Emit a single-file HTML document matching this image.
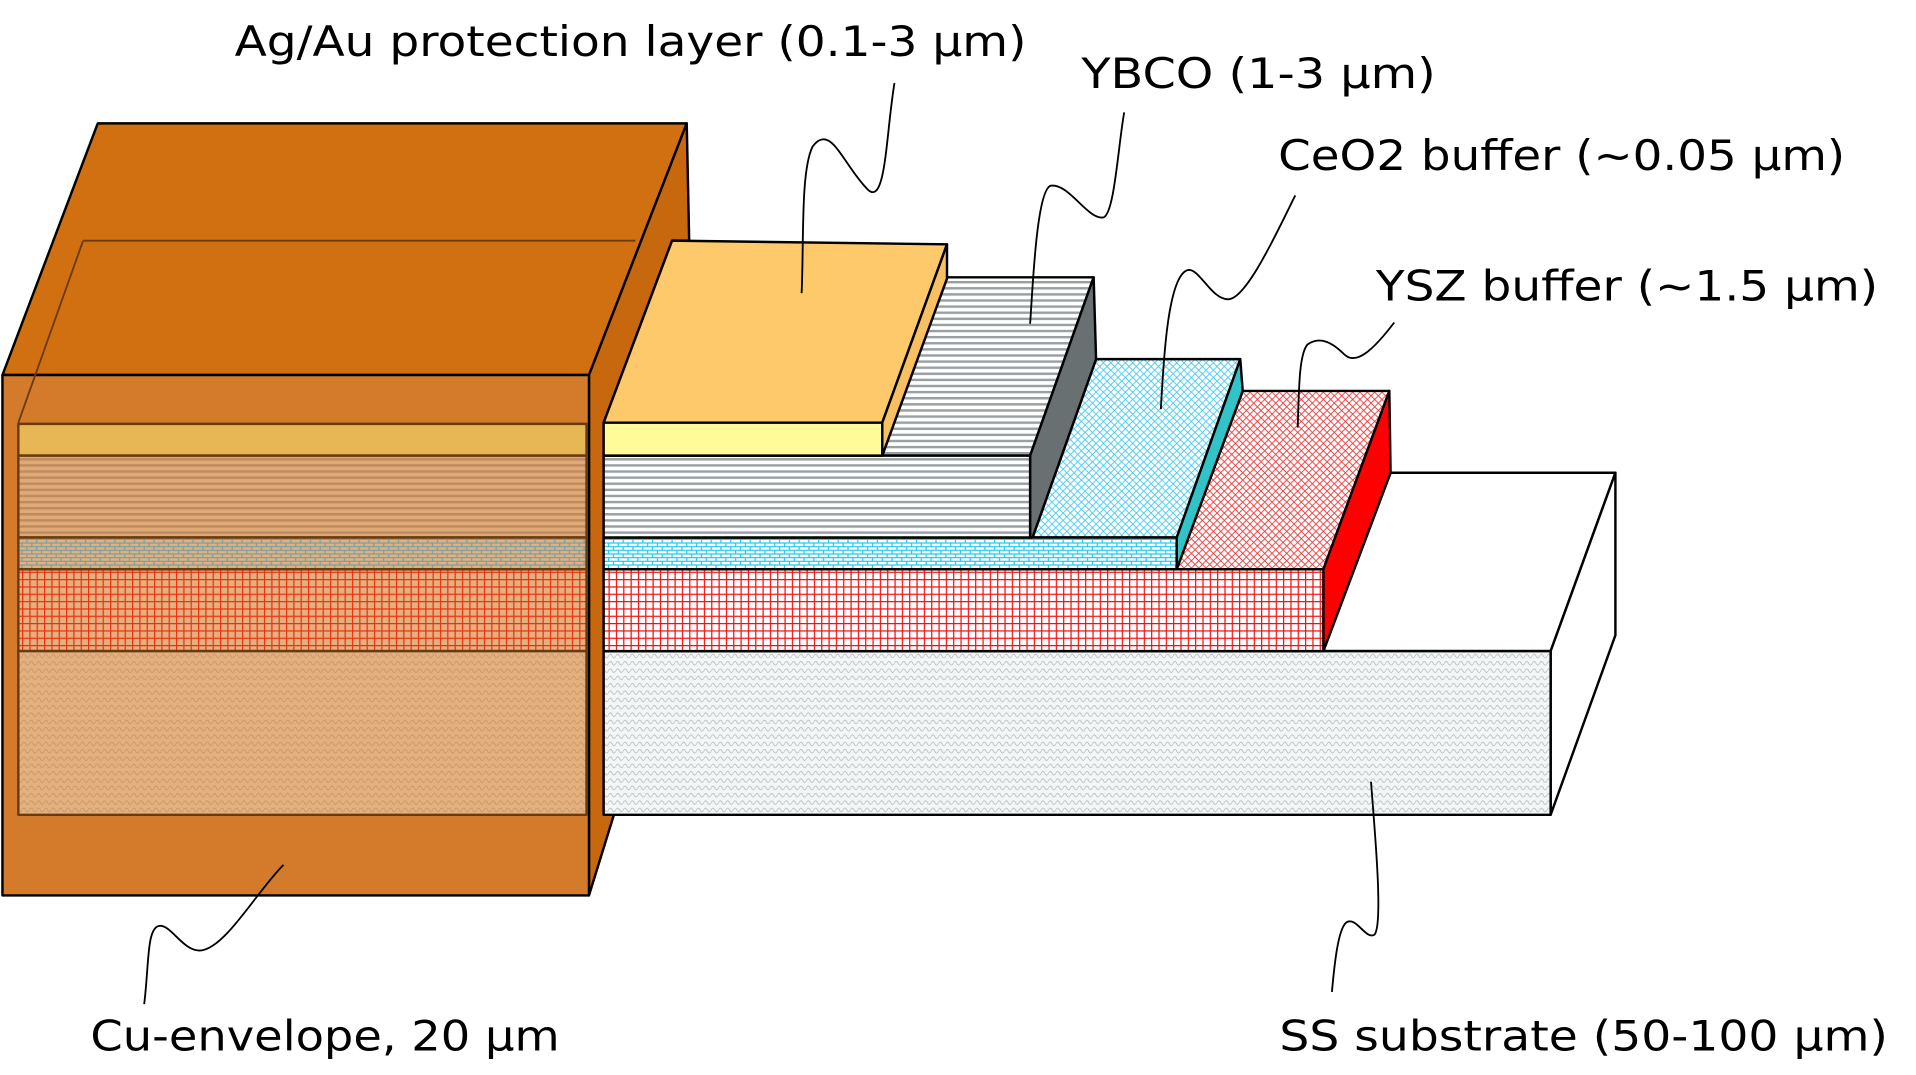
<!DOCTYPE html>
<html><head><meta charset="utf-8"><style>
html,body{margin:0;padding:0;background:#fff;}
svg{display:block;}
text{font-family:"DejaVu Sans","Liberation Sans",sans-serif;font-size:34px;fill:#000;}
</style></head><body>
<svg width="1916" height="1075" viewBox="0 0 1568 880" preserveAspectRatio="none" xmlns="http://www.w3.org/2000/svg">
<defs>
<pattern id="stripeG" width="6" height="5" patternUnits="userSpaceOnUse"><rect width="6" height="5" fill="#fff"/><rect y="0" width="6" height="2" fill="#98a0a4"/></pattern>
<pattern id="stripeT" width="6" height="5" patternUnits="userSpaceOnUse"><rect width="6" height="5" fill="#deaa78"/><rect y="0" width="6" height="2" fill="#c08a5e"/></pattern>
<pattern id="brickB" width="8" height="6" patternUnits="userSpaceOnUse"><rect width="8" height="6" fill="#fff"/><path d="M0 0.5H8M0 3.5H8M2 0V3M6 3V6" stroke="#22c8f0" stroke-width="1"/></pattern>
<pattern id="brickT" width="8" height="6" patternUnits="userSpaceOnUse"><rect width="8" height="6" fill="#e3b07f"/><path d="M0 0.5H8M0 3.5H8M2 0V3M6 3V6" stroke="#7aa0a0" stroke-width="1"/></pattern>
<pattern id="gridR" width="6" height="6" patternUnits="userSpaceOnUse"><rect width="6" height="6" fill="#fff"/><path d="M0 0.5H6M0.5 0V6" stroke="#f01010" stroke-width="1"/></pattern>
<pattern id="gridO" width="6" height="6" patternUnits="userSpaceOnUse"><rect width="6" height="6" fill="#e3b07f"/><path d="M0 0.5H6M0.5 0V6" stroke="#f03010" stroke-width="1"/></pattern>
<pattern id="diaB" width="6" height="6" patternUnits="userSpaceOnUse"><rect width="6" height="6" fill="#fff"/><path d="M0 0L6 6M6 0L0 6" stroke="#40c8f0" stroke-width="0.7"/></pattern>
<pattern id="diaR" width="6" height="6" patternUnits="userSpaceOnUse"><rect width="6" height="6" fill="#fff"/><path d="M0 0L6 6M6 0L0 6" stroke="#f03030" stroke-width="0.7"/></pattern>
<pattern id="waveW" width="6" height="6" patternUnits="userSpaceOnUse"><rect width="6" height="6" fill="#f4f6f6"/><path d="M0 3Q1.5 0 3 3T6 3" stroke="#a8b4b8" stroke-width="0.6" fill="none"/></pattern>
<pattern id="waveT" width="6" height="6" patternUnits="userSpaceOnUse"><rect width="6" height="6" fill="#e3b07f"/><path d="M0 3Q1.5 0 3 3T6 3" stroke="#c89062" stroke-width="0.6" fill="none"/></pattern>
</defs>
<g stroke="#000" stroke-width="2" stroke-linejoin="round">
<polygon points="2,307 80,101 562,101 482,307" fill="#d07010"/>
<polygon points="482,307 562,101 564,197 550,197 494,346 494,665 503,665 482,733" fill="#c8680e"/>
<rect x="2" y="307" width="480" height="426" fill="#d37b2a"/>
<path d="M68,197H520M68,197L15,346" stroke="#6a3a10" stroke-width="1.5" fill="none"/>
<g stroke="#6a3a10" stroke-width="2">
<rect x="15" y="347" width="465" height="26" fill="#e6b754"/>
<rect x="15" y="373" width="465" height="67" fill="url(#stripeT)"/>
<rect x="15" y="440" width="465" height="26" fill="url(#brickT)"/>
<rect x="15" y="466" width="465" height="67" fill="url(#gridO)"/>
<rect x="15" y="533" width="465" height="134" fill="url(#waveT)"/>
</g>
<polygon points="1083,533 1138,387 1322,387 1269,533" fill="#fff"/>
<polygon points="1269,667 1269,533 1322,387 1322,520" fill="#fff"/>
<rect x="494" y="533" width="775" height="134" fill="url(#waveW)"/>
<polygon points="963,466 1017,320 1137,320 1083,466" fill="url(#diaR)"/>
<polygon points="1083,533 1083,466 1137,320 1138,387" fill="#ff0000"/>
<rect x="494" y="466" width="589" height="67" fill="url(#gridR)"/>
<polygon points="845,440 897,294 1015,294 963,440" fill="url(#diaB)"/>
<polygon points="963,466 963,440 1015,294 1017,320" fill="#30c4c8"/>
<rect x="494" y="440" width="469" height="26" fill="url(#brickB)"/>
<polygon points="722,373 775,227 895,227 843,373" fill="url(#stripeG)"/>
<polygon points="843,440 843,373 895,227 897,294 845,440" fill="#687072"/>
<rect x="494" y="373" width="349" height="67" fill="url(#stripeG)"/>
<polygon points="494,346 550,197 775,200 722,346" fill="#fdc96a"/>
<polygon points="722,373 722,346 775,200 775,228" fill="#f8c060"/>
<rect x="494" y="346" width="228" height="27" fill="#fffb99"/>
</g>
<g stroke="#000" stroke-width="1.5" fill="none">
<path d="M732,68 C725,110 725,170 710,155 C690,135 680,100 665,120 C655,140 658,200 656,240"/>
<path d="M920,92 C915,120 912,175 903,178 C890,180 875,150 860,152 C848,155 845,240 843,265"/>
<path d="M1060,160 C1045,190 1020,245 1005,245 C990,245 980,215 970,222 C955,232 952,300 950,335"/>
<path d="M1141,264 C1125,285 1110,300 1100,290 C1090,280 1080,275 1070,282 C1063,290 1063,320 1062,350"/>
<path d="M118,822 C122,790 120,760 130,758 C140,756 150,780 165,778 C185,775 210,730 232,708"/>
<path d="M1090,812 C1092,790 1095,760 1102,755 C1110,750 1118,770 1125,765 C1132,755 1125,680 1122,640"/>
</g>
<text x="192" y="46" textLength="648" lengthAdjust="spacingAndGlyphs">Ag/Au protection layer (0.1-3 μm)</text>
<text x="885" y="72" textLength="290" lengthAdjust="spacingAndGlyphs">YBCO (1-3 μm)</text>
<text x="1046" y="139" textLength="464" lengthAdjust="spacingAndGlyphs">CeO2 buffer (~0.05 μm)</text>
<text x="1126" y="246" textLength="411" lengthAdjust="spacingAndGlyphs">YSZ buffer (~1.5 μm)</text>
<text x="74" y="860" textLength="384" lengthAdjust="spacingAndGlyphs">Cu-envelope, 20 μm</text>
<text x="1047" y="860" textLength="498" lengthAdjust="spacingAndGlyphs">SS substrate (50-100 μm)</text>
</svg>
</body></html>
